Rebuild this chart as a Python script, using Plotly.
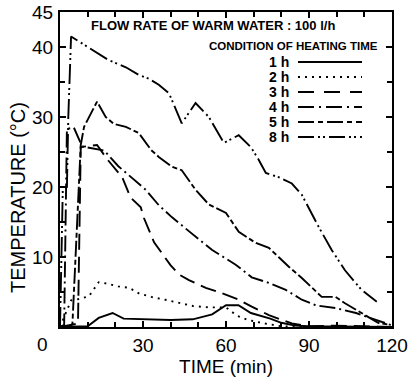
import plotly.graph_objects as go

# ---- data (time in min, temperature in °C) ----
t_1h = [0, 5, 10, 14, 19, 23, 30, 40, 48, 55, 60, 64.5, 69, 76, 80, 85, 90, 120]
y_1h = [0, 0.1, 0.1, 1.3, 2.0, 1.2, 1.1, 1.0, 1.1, 1.8, 3.1, 3.1, 2.0, 1.2, 0.6, 0.2, 0.1, 0]

t_2h = [0, 1, 2.5, 4, 7, 10.5, 14, 17, 21, 25, 28.5, 33, 38, 43, 48, 54, 60, 64, 68, 74, 80, 90, 120]
y_2h = [0, 1, 2.5, 3.8, 4.0, 4.4, 6.4, 6.2, 5.8, 5.6, 4.8, 4.3, 3.9, 3.5, 3.0, 2.8, 2.8, 1.6, 1.0, 0.5, 0.1, 0, 0]

t_3h = [0, 4, 6.5, 7.5, 13.4, 17, 22.5, 25.5, 29.2, 30.3, 34, 40, 43, 46.6, 52.7, 57.4, 64.6, 69.3, 75.5, 83.8, 90, 100, 110, 120]
y_3h = [0, 0.3, 0.5, 25.7, 26.0, 24.0, 21.4, 18.5, 17.1, 15.6, 12.1, 8.8, 7.5, 6.7, 5.6, 5.0, 3.9, 2.9, 1.7, 0.5, 0.1, 0.2, 0.1, 0]

t_4h = [0, 1.5, 2.5, 5, 8, 12, 16, 21, 26.7, 31, 35.7, 40.4, 45, 49, 55, 63.5, 69.3, 75.5, 81.6, 87.4, 92.4, 99.6, 107, 119.5]
y_4h = [0, 0.3, 28.3, 28.5, 25.8, 25.5, 25.2, 23.0, 21.0, 19.6, 17.4, 15.7, 14.2, 12.9, 11.0, 8.9, 7.1, 6.3, 5.3, 3.9, 3.1, 2.7, 2.0, 0.3]

t_5h = [0, 3.5, 4.5, 7.5, 8.7, 13.4, 16.5, 19.5, 23.8, 28.5, 32.9, 35.7, 40.4, 44, 49, 53.8, 60, 64.6, 70.8, 75.5, 79, 82.7, 87.4, 94.6, 99.6, 103, 109, 115, 119.5]
y_5h = [0, 0, 0.5, 26.0, 28.6, 32.2, 30.0, 29.0, 28.6, 27.7, 25.3, 24.3, 22.9, 22.4, 19.6, 17.5, 16.3, 13.6, 12.0, 11.3, 10.0, 8.6, 7.0, 4.3, 4.3, 3.4, 2.0, 0.6, 0.3]

t_8h = [0, 1, 2.5, 3, 4, 8, 11.5, 14, 17.7, 23.8, 28.5, 32, 35.7, 39.4, 41.9, 44, 49, 53.8, 59.2, 64.6, 69, 71.8, 74.4, 79, 83.8, 87.4, 93.5, 98.2, 103, 109, 114.5]
y_8h = [0, 19.5, 20, 30, 41.5, 40.5, 39.6, 39.1, 38.1, 37.1, 36.0, 35.5, 34.6, 33.4, 31.0, 29.1, 32.0, 30.0, 26.3, 27.4, 25.7, 23.9, 22.0, 21.4, 20.5, 18.9, 14.3, 11.0, 8.1, 5.3, 3.6]

series_names = ["1 h", "2 h", "3 h", "4 h", "5 h", "8 h"]
series_t = [t_1h, t_2h, t_3h, t_4h, t_5h, t_8h]
series_y = [y_1h, y_2h, y_3h, y_4h, y_5h, y_8h]

x_tickvals = [0, 30, 60, 90, 120]
x_ticktext = ["", "30", "60", "90", "120"]
y_tickvals = [10, 20, 30, 40, 45]
y_ticktext = ["10", "20", "30", "40", "45"]

dashes = ["solid", "2px,5px", "16px,7px", "16px,4px,2px,4px", "16px,3px,5px,3px", "20px,4px,2px,3px,2px,4px"]
legend_dashes = ["solid", "2px,5px", "16px,10px", "16px,5px,2px,5px", "16px,4px,5px,4px", "16px,4px,2px,3px,2px,4px"]

FONT = "Liberation Sans Narrow, Liberation Sans, Arial, sans-serif"

fig = go.Figure()
for name, t, y, d in zip(series_names, series_t, series_y, dashes):
    fig.add_trace(go.Scatter(x=t, y=y, mode="lines", name=name,
                             line=dict(color="black", width=1.9, dash=d),
                             showlegend=False))

W, H = 410, 379
ml, mr, mt, mb = 60, 18, 12, 52
pw, ph = W - ml - mr, H - mt - mb

def px2paper(x, y):
    return (x - ml) / pw, (H - mb - y) / ph

# title annotation
ax, ay = px2paper(213, 26)
fig.add_annotation(x=ax, y=ay, xref="paper", yref="paper", showarrow=False,
                   text="<b>FLOW RATE OF WARM WATER : 100 l/h</b>",
                   font=dict(family=FONT, size=13, color="black"), xanchor="center", yanchor="middle")
ax, ay = px2paper(380, 46)
fig.add_annotation(x=ax, y=ay, xref="paper", yref="paper", showarrow=False,
                   text="<b>CONDITION OF HEATING TIME</b>",
                   font=dict(family=FONT, size=11.5, color="black"), xanchor="right", yanchor="middle")

leg_y = [62, 77, 92, 107, 122, 137]
for name, ly, d in zip(series_names, leg_y, legend_dashes):
    lx, lyp = px2paper(291, ly)
    fig.add_annotation(x=lx, y=lyp, xref="paper", yref="paper", showarrow=False,
                       text="<b>" + name + "</b>", font=dict(family=FONT, size=14, color="black"),
                       xanchor="right", yanchor="middle")
    x0, y0 = px2paper(298, ly)
    x1, _ = px2paper(362, ly)
    fig.add_shape(type="line", xref="paper", yref="paper", x0=x0, x1=x1, y0=y0, y1=y0,
                  line=dict(color="black", width=1.9, dash=d))

# y-axis title as annotation
ax, ay = px2paper(18, 198)
fig.add_annotation(x=ax, y=ay, xref="paper", yref="paper", showarrow=False,
                   text="TEMPERATURE (°C)", textangle=-90,
                   font=dict(family=FONT, size=20, color="black"), xanchor="center", yanchor="middle")

# the "0" label sits left of the corner in the reference
fig.add_annotation(x=0, y=0, xref="x", yref="paper", showarrow=False, text="0",
                   xshift=-18, yshift=-5, yanchor="top", xanchor="center",
                   font=dict(family=FONT, size=19, color="black"))

axis_common = dict(showline=True, linecolor="black", linewidth=2.2, mirror="ticks",
                   ticks="inside", ticklen=6, tickwidth=1.5, tickcolor="black",
                   showgrid=False, zeroline=False, automargin=False,
                   tickfont=dict(family=FONT, size=19, color="black"))

fig.update_xaxes(range=[0, 120], tickmode="array", tickvals=x_tickvals, ticktext=x_ticktext,
                 minor=dict(dtick=10, ticks="inside", ticklen=5, tickcolor="black", showgrid=False),
                 title=dict(text="TIME (min)", font=dict(family=FONT, size=19, color="black"), standoff=2),
                 **axis_common)
fig.update_yaxes(range=[0, 45], tickmode="array", tickvals=y_tickvals, ticktext=y_ticktext,
                 minor=dict(dtick=5, ticks="inside", ticklen=5, tickcolor="black", showgrid=False),
                 ticklabelstandoff=1,
                 **axis_common)

fig.update_layout(width=W, height=H, margin=dict(l=ml, r=mr, t=mt, b=mb),
                  plot_bgcolor="white", paper_bgcolor="white", showlegend=False)

fig.write_html("out.html", config={"displayModeBar": False},
               post_script="document.body.style.margin='0';")
